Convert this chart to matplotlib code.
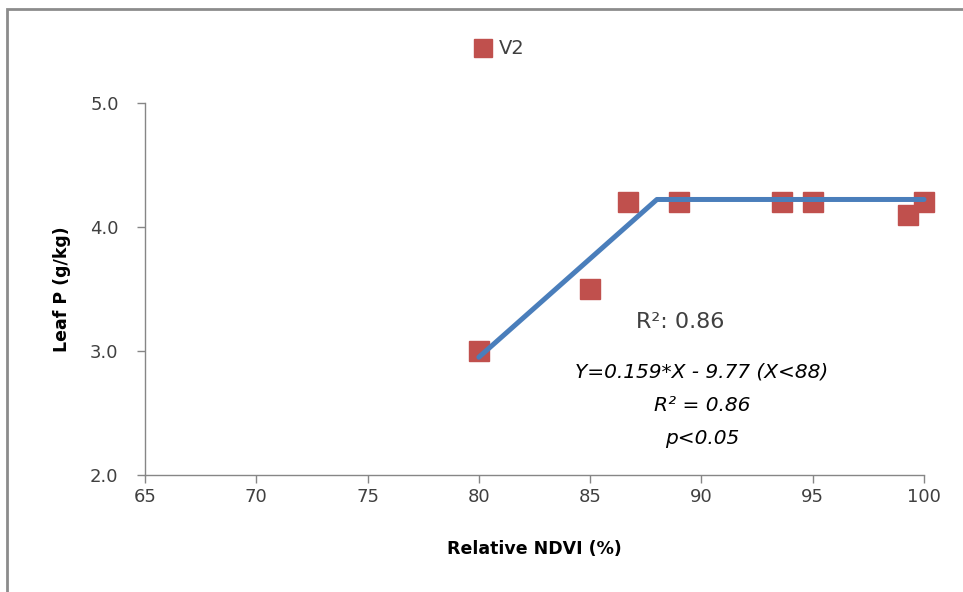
import matplotlib
matplotlib.use("Agg")
import matplotlib.pyplot as plt
from matplotlib.patches import Rectangle

# Leaf P vs relative NDVI, V2 stage
ndvi = [80.0, 85.0, 86.7, 89.0, 93.6, 95.0, 99.3, 100.0]
leaf_p = [3.0, 3.5, 4.2, 4.2, 4.2, 4.2, 4.1, 4.2]

# linear-plateau fit: Y = 0.159*X - 9.77 for X < 88, flat above
slope, intercept, joint = 0.159, -9.77, 88.0
fit_x = [80.0, joint, 100.0]
plateau = slope * joint + intercept
fit_y = [slope * 80.0 + intercept, plateau, plateau]

xticks = [65, 70, 75, 80, 85, 90, 95, 100]
yticks = [2.0, 3.0, 4.0, 5.0]

RED = "#C0504D"
BLUE = "#4A7EBB"
GRAY = "#868686"

fig = plt.figure(figsize=(9.63, 5.92), dpi=100)
ax = fig.add_axes([145 / 963, 1 - 475 / 592, (924 - 145) / 963, (475 - 103) / 592])

ax.plot(fit_x, fit_y, color=BLUE, lw=3.6, solid_joinstyle="round",
        solid_capstyle="round", zorder=3, clip_on=False)
ax.plot(ndvi, leaf_p, ls="none", marker="s", ms=14.5, color=RED, mec=RED,
        zorder=2, label="V2", clip_on=False)

ax.set_xlim(65, 100)
ax.set_ylim(2.0, 5.0)
ax.set_xticks(xticks)
ax.set_yticks(yticks)
ax.set_yticklabels([f"{v:.1f}" for v in yticks])

for s in ("top", "right"):
    ax.spines[s].set_visible(False)
for s in ("left", "bottom"):
    ax.spines[s].set_color(GRAY)
    ax.spines[s].set_linewidth(1.0)

ax.tick_params(axis="x", direction="out", length=6, width=1, color=GRAY,
               labelsize=13, labelcolor="#404040", pad=3)
ax.tick_params(axis="y", direction="out", length=6, width=1, color=GRAY,
               labelsize=13, labelcolor="#404040", pad=13)

ax.set_xlabel("Relative NDVI (%)", fontsize=12.5, fontweight="bold", labelpad=25)
ax.set_ylabel("Leaf P (g/kg)", fontsize=12.5, fontweight="bold", labelpad=14)

ax.text(636, 592 - 322, "R²: 0.86", transform=None, fontsize=16, color="#404040",
        va="center", ha="left")

# equation box is cut off at its lower edge
eq = ax.text(0.715, 0.303, "Y=0.159*X - 9.77 (X<88)\nR² = 0.86\np<0.05",
             transform=ax.transAxes, fontsize=14.5, style="italic", color="black",
             ha="center", va="top", linespacing=1.95)
clip = Rectangle((0, (475 - 446) / 372), 1, 1, transform=ax.transAxes,
                 visible=False)
ax.add_patch(clip)
eq.set_clip_path(clip)

leg = ax.legend(loc="center", bbox_to_anchor=(499 / 963, 1 - 49 / 592),
                bbox_transform=fig.transFigure, frameon=False, markerscale=0.85,
                handletextpad=0.3, handlelength=1.0, fontsize=14)
for t in leg.get_texts():
    t.set_color("#404040")

# outer chart frame
fig.patches.append(Rectangle((7 / 963, -0.1), 1.1, 1 - 9 / 592 + 0.1,
                             transform=fig.transFigure, fill=False,
                             edgecolor="#8C8C8C", lw=2.0))

fig.savefig("out.png", dpi=100)
